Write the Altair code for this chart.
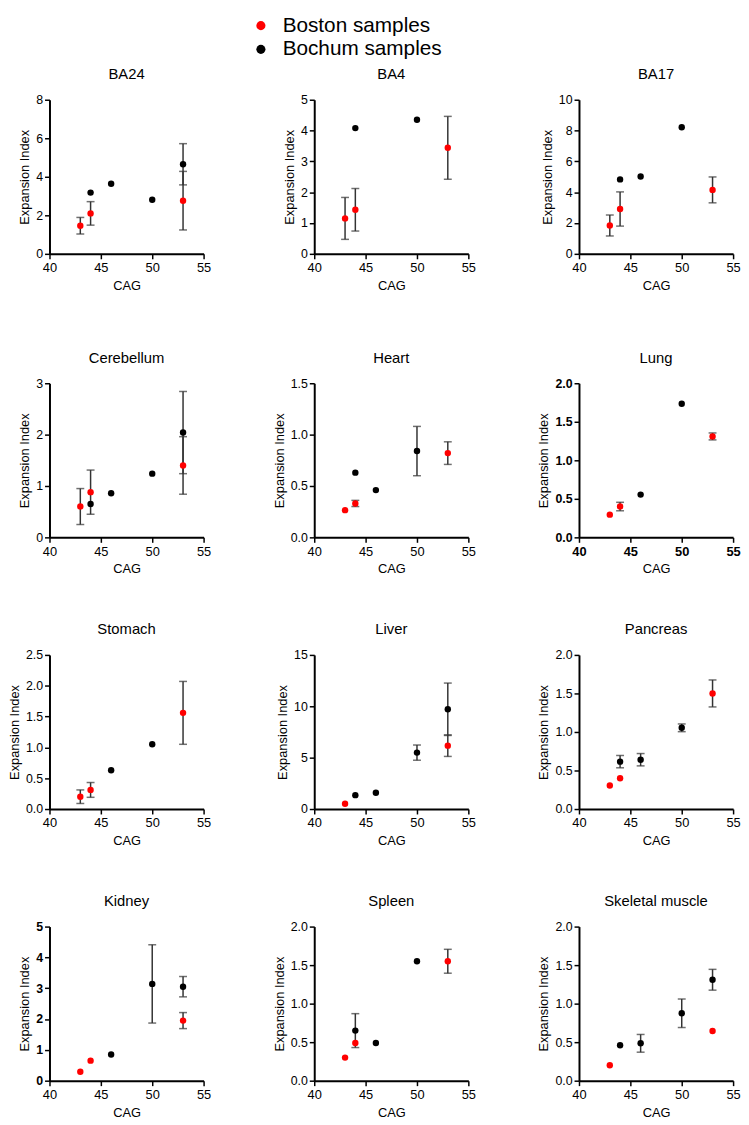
import altair as alt
import pandas as pd

TISSUES = ["BA24", "BA4", "BA17", "Cerebellum", "Heart", "Lung",
           "Stomach", "Liver", "Pancreas", "Kidney", "Spleen", "Skeletal muscle"]
Y_MAX = [8, 5, 10, 3, 1.5, 2, 2.5, 15, 2, 5, 2, 2]
Y_STEP = [2, 1, 2, 1, 0.5, 0.5, 0.5, 5, 0.5, 1, 0.5, 0.5]
X_TICKS = [40, 45, 50, 55]
GROUPS = ["Boston samples", "Bochum samples"]
COLORS = ["#ff0000", "#000000"]

# values per CAG group, in TISSUES order (None = no sample)
BOSTON_43 = [1.46, 1.15, 1.84, 0.60, 0.265, 0.295, 0.20, 0.51, 0.305, 0.29, 0.30, 0.20]
BOSTON_43_SD = [0.43, 0.68, 0.68, 0.35, 0, 0, 0.11, 0, 0, 0, 0, 0]
BOSTON_44 = [2.10, 1.43, 2.91, 0.88, 0.33, 0.40, 0.31, None, 0.40, 0.65, 0.49, None]
BOSTON_44_SD = [0.61, 0.69, 1.11, 0.43, 0.03, 0.055, 0.12, 0, 0, 0, 0, 0]
BOSTON_53 = [2.76, 3.44, 4.15, 1.40, 0.82, 1.31, 1.56, 6.17, 1.50, 1.95, 1.55, 0.645]
BOSTON_53_SD = [1.52, 1.02, 0.84, 0.56, 0.11, 0.045, 0.51, 1.05, 0.175, 0.26, 0.155, 0]
BOCHUM_44 = [3.18, 4.08, 4.83, 0.65, 0.63, None, None, 1.35, 0.615, None, 0.65, 0.46]
BOCHUM_44_SD = [0, 0, 0, 0, 0, 0, 0, 0, 0.08, 0, 0.22, 0]
BOCHUM_46 = [3.64, None, 5.02, 0.86, 0.46, 0.555, 0.63, 1.58, 0.64, 0.85, 0.49, 0.485]
BOCHUM_46_SD = [0, 0, 0, 0, 0, 0, 0, 0, 0.08, 0, 0, 0.115]
BOCHUM_50 = [2.81, 4.35, 8.21, 1.24, 0.84, 1.735, 1.05, 5.49, 1.054, 3.14, 1.55, 0.875]
BOCHUM_50_SD = [0, 0, 0, 0, 0.24, 0, 0, 0.74, 0.05, 1.27, 0, 0.185]
BOCHUM_53 = [4.65, None, None, 2.04, None, None, None, 9.71, None, 3.05, None, 1.31]
BOCHUM_53_SD = [1.07, 0, 0, 0.80, 0, 0, 0, 2.55, 0, 0.33, 0, 0.135]

SERIES = [
    ("Bochum samples", 44, BOCHUM_44, BOCHUM_44_SD),
    ("Bochum samples", 46, BOCHUM_46, BOCHUM_46_SD),
    ("Bochum samples", 50, BOCHUM_50, BOCHUM_50_SD),
    ("Bochum samples", 53, BOCHUM_53, BOCHUM_53_SD),
    ("Boston samples", 43, BOSTON_43, BOSTON_43_SD),
    ("Boston samples", 44, BOSTON_44, BOSTON_44_SD),
    ("Boston samples", 53, BOSTON_53, BOSTON_53_SD),
]

rows = []
for group, cag, vals, sds in SERIES:
    for t, v, s in zip(TISSUES, vals, sds):
        if v is None:
            continue
        rows.append({"tissue": t, "group": group, "cag": cag, "value": v,
                     "sd": s, "lo": v - s, "hi": v + s})
df = pd.DataFrame(rows)

FONT = "Liberation Sans"
COLOR_SCALE = alt.Scale(domain=GROUPS, range=COLORS)


def panel(i):
    t = TISSUES[i]
    ymax, step = Y_MAX[i], Y_STEP[i]
    n = int(round(ymax / step))
    yvals = [round(k * step, 2) for k in range(n + 1)]
    fmt = ".1f" if step < 1 else "d"
    bold_y = t in ("Lung", "Kidney")
    bold_x = t == "Lung"
    xscale = alt.Scale(domain=[40, 55], nice=False, zero=False)
    yscale = alt.Scale(domain=[0, ymax], nice=False)
    xaxis = alt.Axis(values=X_TICKS, title="CAG", labelFlush=False,
                     labelFontWeight="bold" if bold_x else "normal")
    yaxis = alt.Axis(values=yvals, format=fmt, title="Expansion Index",
                     labelFontWeight="bold" if bold_y else "normal")
    sub = df[df.tissue == t]
    err = sub[sub.sd > 0]
    eb = alt.Chart(err).mark_errorbar(
        ticks=alt.MarkConfig(size=8), thickness=1.5, color="#333333"
    ).encode(
        x=alt.X("cag:Q", scale=xscale, axis=xaxis),
        y=alt.Y("lo:Q", scale=yscale, axis=yaxis),
        y2="hi:Q",
    )
    pts = alt.Chart(sub).mark_circle(size=42, opacity=1).encode(
        x=alt.X("cag:Q", scale=xscale, axis=xaxis),
        y=alt.Y("value:Q", scale=yscale, axis=yaxis),
        color=alt.Color("group:N", scale=COLOR_SCALE, legend=None),
    )
    return alt.layer(eb, pts).properties(
        width=156, height=156,
        title=alt.TitleParams(t, fontSize=15, font=FONT, fontWeight="normal",
                              color="black", offset=12, frame="group"),
    )


def row(k):
    return alt.hconcat(*[panel(3 * k + j) for j in range(3)],
                       spacing=112, bounds="flush")


legend_df = pd.DataFrame({"group": GROUPS})
legend_base = alt.Chart(legend_df).encode(
    y=alt.Y("group:N", sort=GROUPS, axis=None, scale=alt.Scale(padding=0)),
)
legend_chart = alt.layer(
    legend_base.mark_circle(size=85, opacity=1).encode(
        color=alt.Color("group:N", scale=COLOR_SCALE, legend=None)),
    legend_base.mark_text(align="left", baseline="middle", dx=22, fontSize=21,
                          font=FONT, color="black").encode(text="group:N"),
).properties(width=428, height=24)

chart = alt.vconcat(
    legend_chart,
    alt.vconcat(
        row(0),
        alt.vconcat(
            row(1),
            alt.vconcat(row(2), row(3), spacing=47),
            spacing=47,
        ),
        spacing=59,
    ),
    spacing=8,
).properties(
    padding=0
).configure_view(stroke=None).configure_axis(
    grid=False, domainColor="black", domainWidth=2, tickColor="black",
    tickWidth=1.5, tickSize=5, labelColor="black",
    labelFont=FONT, titleFont=FONT, titleFontSize=13, titleFontWeight="normal",
    titleColor="black",
).configure_axisX(labelPadding=3, titlePadding=5, labelFontSize=13).configure_axisY(
    labelPadding=2, titlePadding=4, labelFontSize=12.5)

chart.save("out.html", embed_options={"renderer": "svg", "actions": False})
